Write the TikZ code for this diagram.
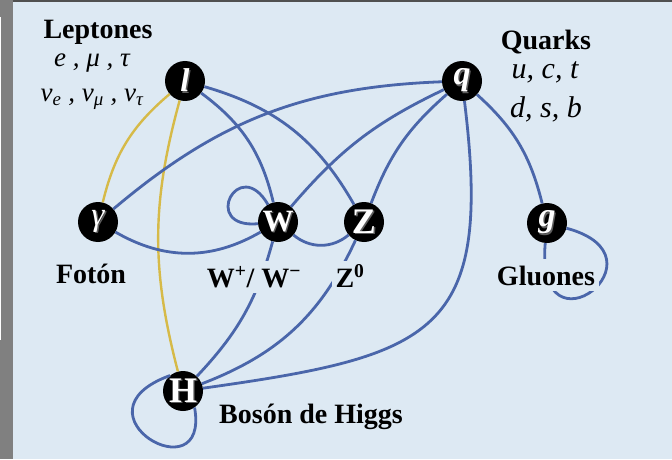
\documentclass[tikz,border=0pt]{standalone}
\usepackage{fontspec}
\setmainfont{Liberation Serif}
\usetikzlibrary{topaths}

\definecolor{bgblue}{RGB}{221,233,243}
\definecolor{edgeblue}{RGB}{74,102,170}
\definecolor{edgeyellow}{RGB}{214,186,72}
\definecolor{framegray}{RGB}{128,128,128}
\definecolor{topgray}{RGB}{80,80,80}
\definecolor{shadowgray}{RGB}{95,95,95}
\newcommand{\glyphshadow}[1]{\makebox[0pt][l]{\kern1.3pt\raisebox{-1.3pt}{\textcolor{shadowgray}{#1}}}\textcolor{white}{#1}}

\begin{document}
\begin{tikzpicture}[x=1pt,y=1pt,
    particle/.style={circle,fill=black,minimum size=40pt,inner sep=0pt},
    blueline/.style={draw=edgeblue,line width=2.8pt},
    yellowline/.style={draw=edgeyellow,line width=2.4pt},
    lbl/.style={fill=bgblue,inner sep=4pt,text height=22pt,text depth=2pt,anchor=base,font=\fontsize{28}{30}\selectfont\bfseries},
    lst/.style={anchor=base,inner sep=0pt,font=\fontsize{27}{30}\selectfont\itshape}]

            %\draw [help lines] (0,0) grid[step=50] (672,459);
            \fill[framegray] (0,0) rectangle (672,459);
            \fill[white] (0,119) rectangle (1,442);
            \fill[topgray] (13,457) rectangle (672,459);
            \fill[bgblue] (13,0) rectangle (672,457);
            \useasboundingbox (0,0) rectangle (672,459);

            \path   (185,378) node (l) [particle,font=\fontsize{33}{33}\selectfont\bfseries\itshape] {\glyphshadow{l}}
                    (462,378) node (q) [particle,font=\fontsize{34}{34}\selectfont\bfseries\itshape] {\glyphshadow{q}}
                    (98,237)  node (ga) [particle,font=\fontsize{33}{33}\selectfont\itshape] {\glyphshadow{γ}}
                    (278,237) node (w) [particle,font=\fontsize{31}{31}\selectfont\bfseries] {\glyphshadow{W}}
                    (364,237) node (z) [particle,font=\fontsize{36}{36}\selectfont\bfseries] {\glyphshadow{Z}}
                    (547,236) node (g) [particle,font=\fontsize{34}{34}\selectfont\bfseries\itshape] {\glyphshadow{g}}
                    (183,68)  node (h) [particle,font=\fontsize{36}{36}\selectfont\bfseries] {\glyphshadow{H}};

            \draw[yellowline] (l) to[bend right=18] (ga);
            \draw[yellowline] (l) to[bend right=15] (h);
            \draw[blueline] (l) to[bend left=20] (w);
            \draw[blueline] (l) to[bend left=22] (z);
            \draw[blueline] (ga) to[bend left=19] (q);
            \draw[blueline] (ga) to[bend right=30] (w);
            \draw[blueline] (w) to[out=120,in=185,distance=58pt] (w);
            \draw[blueline] (w) to[bend right=40] (z);
            \draw[blueline] (w) to[bend left=12] (q);
            \draw[blueline] (z) to[bend left=14] (q);
            \draw[blueline] (q) to[bend left=17] (g);
            \draw[blueline] (q) to[out=-83,in=8,looseness=1.55] (h);
            \draw[blueline] (w) to[bend left=14] (h);
            \draw[blueline] (z) to[bend left=22] (h);
            \draw[blueline] (g) to[out=-15,in=-95,out distance=110pt,in distance=120pt] (g);
            \draw[blueline] (h.130) to[out=200,in=-80,out distance=110pt,in distance=90pt] (h.-55);

            \path   (98,420)  node (leptones) [lbl] {Leptones}
                    (92,392)  node (leptonlist) [lst] {e , μ , τ}
                    (92,357)  node (neutrinos) [lst] {ν\textsubscript{e} , ν\textsubscript{μ} , ν\textsubscript{τ}}
                    (546,409) node (quarks) [lbl] {Quarks}
                    (545,381) node (quarkup) [lst,font=\fontsize{30}{30}\selectfont\itshape] {u, c, t}
                    (546,342) node (quarkdown) [lst,font=\fontsize{30}{30}\selectfont\itshape] {d, s, b}
                    (91,176)  node (foton) [lbl] {Fotón}
                    (254,172) node (wlabel) [lbl] {W\textsuperscript{+}/ W\textsuperscript{\char"2212}}
                    (350,172) node (zlabel) [lbl] {Z\textsuperscript{0}}
                    (546,174) node (gluones) [lbl] {Gluones}
                    (311,36)  node (higgs) [lbl] {Bosón de Higgs};
        \end{tikzpicture}
\end{document}
